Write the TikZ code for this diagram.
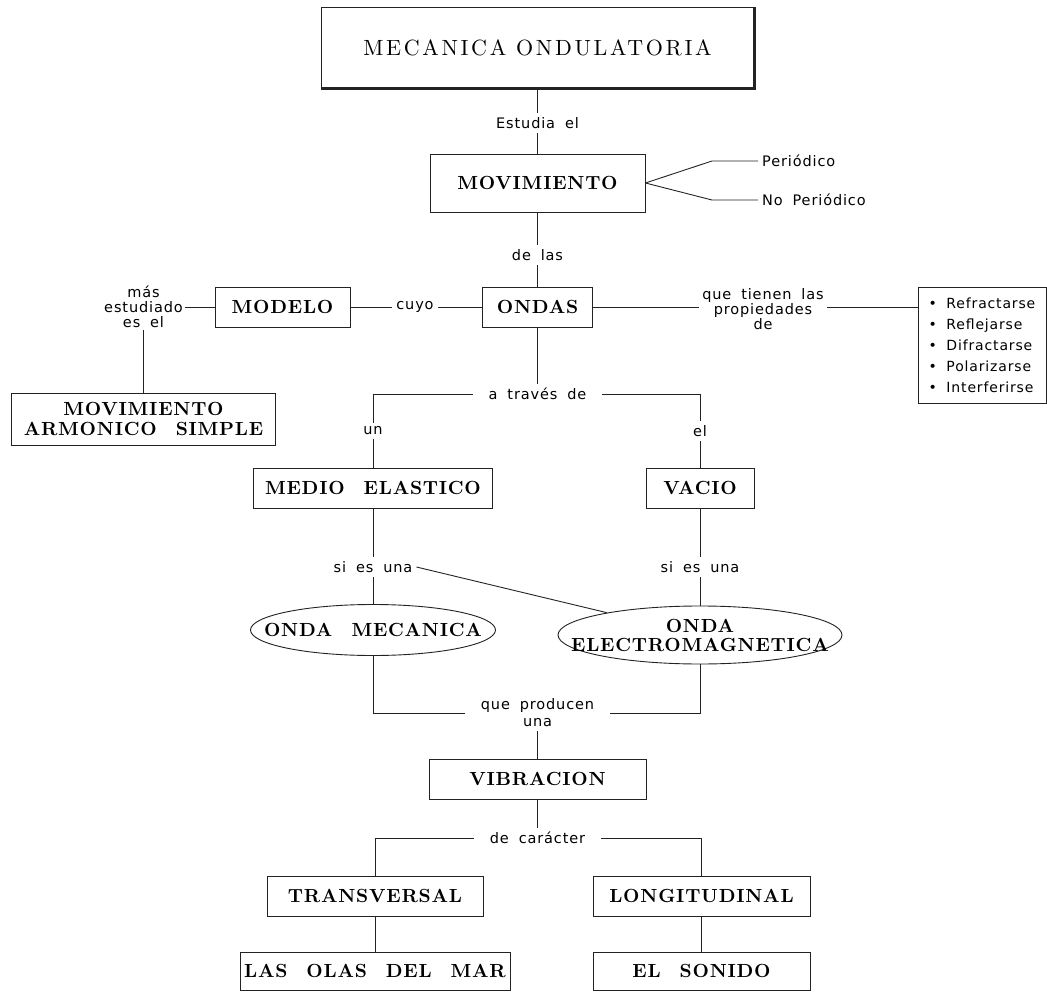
\documentclass[tikz,border=0pt]{standalone}
\usepackage{fontspec}
\usepackage{tikz}
\usetikzlibrary{shapes.geometric}
\newfontfamily\lblfont{DejaVu Sans}[LetterSpace=6, WordSpace=1.8]
\newfontfamily\titlefont{lmroman10-regular.otf}[LetterSpace=12]
\newfontfamily\boxfont{lmroman10-bold.otf}[LetterSpace=4]
\definecolor{ln}{RGB}{35, 35, 35}

\begin{document}
\begin{tikzpicture}[
  box/.style={rectangle, draw=ln, line width=0.9pt, fill=white, inner sep=0pt, align=center, font=\boxfont\fontsize{19}{20}\selectfont},
  oval/.style={ellipse, draw=ln, line width=0.9pt, fill=white, inner sep=0pt, align=center, font=\boxfont\fontsize{19}{19}\selectfont},
  lbl/.style={inner sep=4pt, align=center, font=\lblfont\fontsize{14.5}{15}\selectfont},
  wide/.style={inner xsep=16pt},
  link/.style={draw=ln, line width=0.9pt}]
\useasboundingbox (0pt, 0pt) rectangle (1047pt, -992pt);
\node (1) [box, minimum width=433pt, minimum height=81pt, font=\titlefont\fontsize{22}{24}\selectfont] at (537.5pt, -47.5pt)  {MECANICA ONDULATORIA};
\node (2) [lbl] at (537.5pt, -123.0pt)  {Estudia el};
\node (3) [box, minimum width=215pt, minimum height=58pt] at (537.5pt, -183.0pt)  {MOVIMIENTO};
\node (4) [lbl, anchor=west] at (758.0pt, -161.0pt)  {Periódico};
\node (5) [lbl, anchor=west] at (758.0pt, -200.0pt)  {No Periódico};
\coordinate (a) at (712.0pt, -161.0pt);
\coordinate (b) at (712.0pt, -200.0pt);
\node (6) [lbl] at (537.5pt, -255.0pt)  {de las};
\node (7) [box, minimum width=110pt, minimum height=40pt] at (537.5pt, -307.0pt)  {ONDAS};
\node (8) [lbl] at (415.0pt, -307.0pt)  {cuyo};
\node (9) [box, minimum width=135pt, minimum height=40pt] at (282.5pt, -307.0pt)  {MODELO};
\node (10) [lbl, inner sep=2pt] at (143.5pt, -307.0pt)  {más\\estudiado\\es el};
\node (11) [box, minimum width=264pt, minimum height=52pt] at (143.5pt, -419.0pt)  {MOVIMIENTO\\ARMONICO\quad SIMPLE};
\node (12) [lbl, inner sep=3pt, font=\lblfont\fontsize{14.5}{14}\selectfont] at (763.0pt, -309.0pt)  {que tienen las\\propiedades\\de};
\node (13) [box, minimum width=128pt, minimum height=116pt, align=left, font=\lblfont\fontsize{14}{21}\selectfont] at (982.0pt, -345.0pt)  {\textbullet\ Refractarse\\\textbullet\ Reflejarse\\\textbullet\ Difractarse\\\textbullet\ Polarizarse\\\textbullet\ Interferirse};
\node (14) [lbl, wide] at (537.5pt, -394.0pt)  {a través de};
\node (15) [lbl] at (373.0pt, -431.0pt)  {un};
\node (16) [lbl] at (700.0pt, -431.0pt)  {el};
\node (17) [box, minimum width=239pt, minimum height=40pt] at (373.0pt, -488.0pt)  {MEDIO\quad ELASTICO};
\node (18) [box, minimum width=108pt, minimum height=40pt] at (700.0pt, -488.0pt)  {VACIO};
\node (19) [lbl] at (373.0pt, -567.0pt)  {si es una};
\node (20) [lbl] at (700.0pt, -567.0pt)  {si es una};
\node (21) [oval, minimum width=245pt, minimum height=51pt] at (373.0pt, -630.0pt)  {\makebox[0pt]{ONDA\quad MECANICA}};
\node (22) [oval, minimum width=284pt, minimum height=58pt] at (700.0pt, -635.0pt)  {\makebox[0pt]{ONDA}\\\makebox[0pt]{ELECTROMAGNETICA}};
\node (23) [lbl, wide, font=\lblfont\fontsize{14.5}{17}\selectfont] at (537.5pt, -713.0pt)  {que producen\\una};
\node (24) [box, minimum width=217pt, minimum height=40pt] at (537.5pt, -779.0pt)  {VIBRACION};
\node (25) [lbl, wide] at (537.5pt, -838.0pt)  {de carácter};
\node (26) [box, minimum width=216pt, minimum height=40pt] at (375.0pt, -896.0pt)  {TRANSVERSAL};
\node (27) [box, minimum width=217pt, minimum height=40pt] at (701.5pt, -896.0pt)  {LONGITUDINAL};
\node (28) [box, minimum width=270pt, minimum height=38pt] at (375.0pt, -971.0pt)  {LAS\quad OLAS\quad DEL\quad MAR};
\node (29) [box, minimum width=217pt, minimum height=38pt] at (701.5pt, -971.0pt)  {EL\quad SONIDO};
\draw [ln, line width=3pt] (1.south west) -- (1.south east) -- (1.north east);
\draw [link] (1) to  (2);
\draw [link] (2) to  (3);
\draw [link] (3.east) -- (a) -- (4.west);
\draw [link] (3.east) -- (b) -- (5.west);
\draw [link] (3) to  (6);
\draw [link] (6) to  (7);
\draw [link] (7) to  (8);
\draw [link] (8) to  (9);
\draw [link] (9) to  (10);
\draw [link] (10) to  (11);
\draw [link] (7.east) -- (7.east -| 12.west);
\draw [link] (12.east |- 7.east) -- (7.east -| 13.west);
\draw [link] (7) to  (14);
\draw [link] (14) -| (15);
\draw [link] (14) -| (16);
\draw [link] (15) to  (17);
\draw [link] (16) to  (18);
\draw [link] (17) to  (19);
\draw [link] (18) to  (20);
\draw [link] (19) to  (21);
\draw [link] (20) to  (22);
\draw [link] (19.east) to  (22);
\draw [link] (21.south) |- (23);
\draw [link] (22.south) |- (23);
\draw [link] (23) to  (24);
\draw [link] (24) to  (25);
\draw [link] (25) -| (26);
\draw [link] (25) -| (27);
\draw [link] (26) to  (28);
\draw [link] (27) to  (29);
\end{tikzpicture}
\end{document}
